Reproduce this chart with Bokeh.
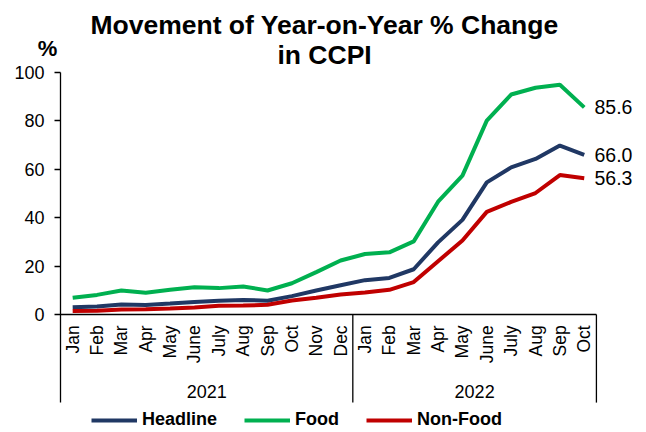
import math
from bokeh.plotting import figure
from bokeh.models import Legend, LegendItem, FixedTicker, Range1d
from bokeh.core.properties import value
from bokeh.embed import file_html
from bokeh.resources import INLINE

# ---------------- data ----------------
years = ["2021", "2022"]
months_2021 = ["Jan", "Feb", "Mar", "Apr", "May", "June", "July", "Aug", "Sep", "Oct", "Nov", "Dec"]
months_2022 = ["Jan", "Feb", "Mar", "Apr", "May", "June", "July", "Aug", "Sep", "Oct"]
headline = [3.0, 3.3, 4.1, 3.9, 4.5, 5.2, 5.7, 6.0, 5.7, 7.6, 9.9, 12.1,
            14.2, 15.1, 18.7, 29.8, 39.1, 54.6, 60.8, 64.3, 69.8, 66.0]
food = [6.9, 8.1, 9.9, 9.0, 10.2, 11.3, 10.9, 11.6, 9.9, 12.9, 17.5, 22.3,
        25.0, 25.7, 30.2, 46.6, 57.4, 80.1, 90.9, 93.7, 94.9, 85.6]
nonfood = [1.4, 1.5, 2.1, 2.2, 2.5, 2.9, 3.6, 3.7, 4.0, 5.8, 6.9, 8.3,
           9.1, 10.2, 13.4, 22.0, 30.6, 42.4, 46.5, 50.2, 57.6, 56.3]
series_names = ["Headline", "Food", "Non-Food"]
y_ticks = [0, 20, 40, 60, 80, 100]
title_lines = ["Movement of Year-on-Year % Change", "in CCPI"]
unit_label = "%"

# ---------------- styles ----------------
FONT = "Liberation Sans"
colors = ["#203864", "#00B050", "#C00000"]

months = months_2021 + months_2022
xs = list(range(len(months)))
group_sizes = [len(months_2021), len(months_2022)]

W, H = 646, 432
p = figure(width=W, height=H, output_backend="svg", toolbar_location=None,
           x_range=Range1d(-2.963, 23.556), y_range=Range1d(-48.76, 129.75),
           x_axis_location=None, min_border_left=0, min_border_right=0,
           min_border_top=0, min_border_bottom=0)
p.outline_line_color = None
p.xgrid.visible = False
p.ygrid.visible = False
p.background_fill_color = "white"
p.border_fill_color = "white"

AX_BOTTOM = -36.4

# y axis, pinned at the left edge of the category axis
ya = p.yaxis[0]
ya.fixed_location = -0.5
ya.ticker = FixedTicker(ticks=y_ticks)
ya.bounds = (AX_BOTTOM, max(y_ticks))
ya.axis_line_color = "black"
ya.axis_line_width = 1.3
ya.major_tick_line_color = "black"
ya.major_tick_line_width = 1.3
ya.major_tick_out = 6
ya.major_tick_in = 0
ya.minor_tick_line_color = None
ya.major_label_standoff = 10
ya.major_label_text_font = FONT
ya.major_label_text_font_size = "18px"
ya.major_label_text_color = "black"

# category axis drawn from the data lists
n = len(months)
p.segment(x0=[-0.5], y0=[0], x1=[n - 0.5], y1=[0], line_color="black", line_width=1.3)
bounds = []
acc = 0
for g in group_sizes:
    acc += g
    bounds.append(acc - 0.5)
p.segment(x0=bounds, y0=[0] * len(bounds), x1=bounds, y1=[AX_BOTTOM] * len(bounds),
          line_color="black", line_width=1.3)
p.text(x=xs, y=[-4.5] * n, text=months, angle=math.pi / 2,
       text_align="right", text_baseline="middle",
       text_font=value(FONT), text_font_size="17.5px", text_color="black")
centers = []
start = 0
for g in group_sizes:
    centers.append(start + (g - 1) / 2)
    start += g
p.text(x=centers, y=[-31.8] * len(centers), text=years,
       text_align="center", text_baseline="middle",
       text_font=value(FONT), text_font_size="18px", text_color="black")

# lines
renderers = []
for name, vals, c in zip(series_names, [headline, food, nonfood], colors):
    r = p.line(xs, vals, line_color=c, line_width=4)
    renderers.append(r)

# end labels
last_x = xs[-1]
p.text(x=[last_x + 0.42] * 3, y=[food[-1], headline[-1], nonfood[-1]],
       text=["%.1f" % food[-1], "%.1f" % headline[-1], "%.1f" % nonfood[-1]],
       text_align="left", text_baseline="middle",
       text_font=value(FONT), text_font_size="19.5px", text_color="black")

# title
p.text(x=[10.34, 10.34], y=[119.8, 107.4], text=title_lines,
       text_align="center", text_baseline="alphabetic",
       text_font=value(FONT), text_font_size="26.5px", text_font_style="bold",
       text_color="black")

# unit label
p.text(x=[-1.03], y=[109.9], text=[unit_label], text_align="center",
       text_baseline="alphabetic", text_font=value(FONT),
       text_font_size="22px", text_font_style="bold", text_color="black")

legend = Legend(items=[LegendItem(label=nm, renderers=[r]) for nm, r in zip(series_names, renderers)],
                orientation="horizontal", location=(91, 2))
legend.padding = 0
legend.margin = 0
legend.spacing = 27
legend.glyph_width = 46
legend.glyph_height = 20
legend.label_height = 20
legend.label_standoff = 5
legend.label_text_font = FONT
legend.label_text_font_size = "18px"
legend.label_text_font_style = "bold"
legend.label_text_color = "black"
legend.border_line_color = None
legend.background_fill_alpha = 0
p.add_layout(legend, "center")

open("out.html", "w").write(file_html(p, INLINE))
